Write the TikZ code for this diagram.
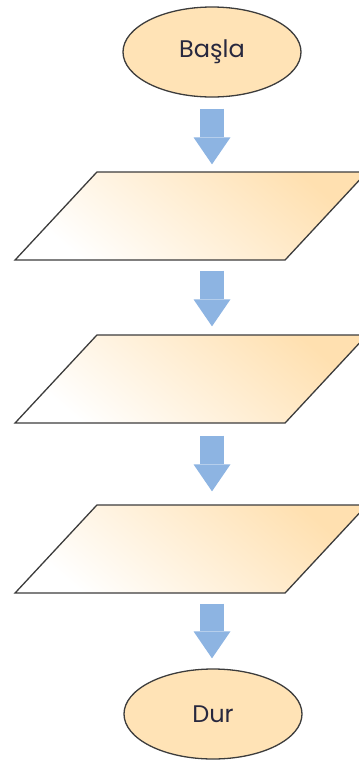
\documentclass[tikz,border=0pt]{standalone}
\usepackage{fontspec}
\setmainfont{Poppins}
\definecolor{termPeach}{RGB}{255,227,182}
\definecolor{ioPeach}{RGB}{255,224,176}
\definecolor{flowBlue}{RGB}{141,180,226}
\definecolor{edgeGray}{RGB}{60,60,60}
\definecolor{labelInk}{RGB}{40,40,62}
\usetikzlibrary{shapes.geometric,arrows.meta,positioning,calc}

\begin{document}
\begin{tikzpicture}[
      x=1pt, y=-1pt,
      term/.style={ellipse, draw=edgeGray, line width=1.3pt, fill=termPeach,
        minimum width=178pt, minimum height=90pt, inner sep=0pt,
        font=\fontsize{24}{28}\selectfont, text=labelInk},
      iobox/.style={rectangle, xslant=0.93, draw=edgeGray, line width=1.3pt,
        minimum width=270pt, minimum height=88pt, inner sep=0pt,
        left color=ioPeach, right color=white, shading angle=-40},
      flow/.style={line width=24pt, flowBlue,
        -{Triangle[width=37pt,length=27pt,line width=0pt]}}
    ]
      \useasboundingbox (0,0) rectangle (359,764);

      % Terminals and input boxes, top to bottom
      \node[term] (start) at (212,52) {Başla};
      \node[iobox] (in1) at (191,216) {};
      \node[iobox] (in2) at (191,379) {};
      \node[iobox] (in3) at (191,549) {};
      \node[term] (stop) at (213,714) {Dur};

      % Block arrows
      \draw[flow, shorten <=11pt, shorten >=7pt]
        (start.south) -- (start.south |- in1.north);
      \draw[flow, shorten <=10pt, shorten >=8pt]
        (start.south |- in1.south) -- (start.south |- in2.north);
      \draw[flow, shorten <=12pt, shorten >=13pt]
        (start.south |- in2.south) -- (start.south |- in3.north);
      \draw[flow, shorten <=10pt, shorten >=10pt]
        (start.south |- in3.south) -- (start.south |- stop.north);
    \end{tikzpicture}
\end{document}
